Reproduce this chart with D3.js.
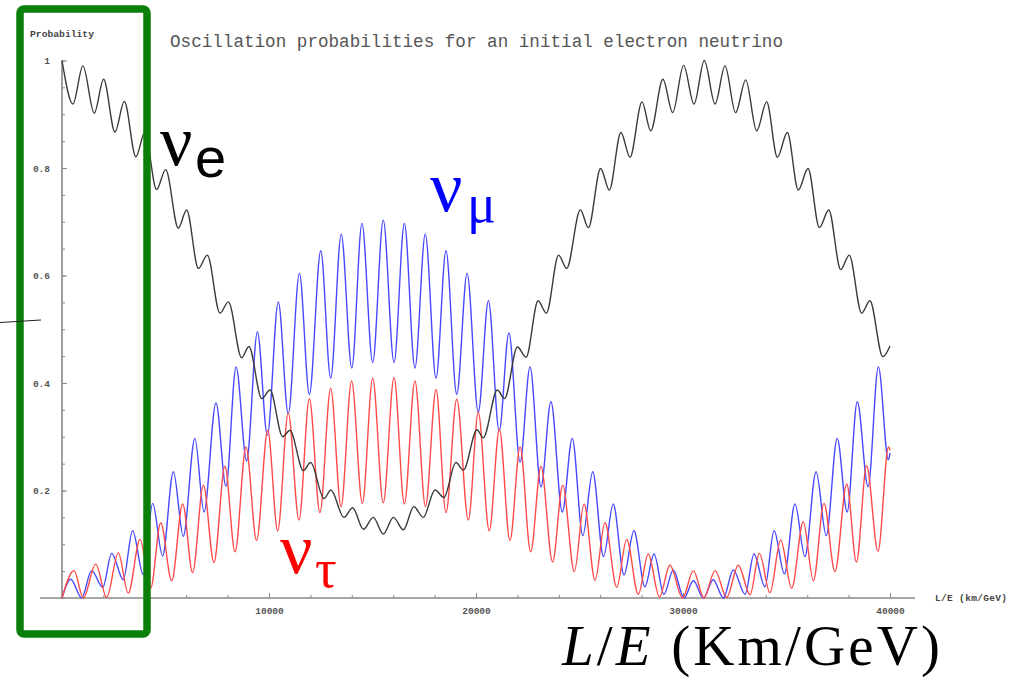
<!DOCTYPE html>
<html>
<head>
<meta charset="utf-8">
<script src="https://cdn.jsdelivr.net/npm/d3@7"></script>
<style>
    body { margin: 0; background: #fff; }
    svg { display: block; }
    .tick text { font-family: 'Liberation Mono', monospace; font-weight: bold; font-size: 9.5px; fill: #555; }
    .tick line { stroke: #888; }
    .axis-line { stroke: #888; stroke-width: 1.6; }
</style>
</head>
<body>
<svg id="chart"></svg>
<script>
// [L/E in km/GeV, probability] read at the peaks and troughs of each curve
const nuE = [
    [0, 1.0], [530, .919], [1010, .990], [1560, .902], [2010, .965], [2560, .867], [3010, .924], [3570, .821],
    [4000, .866], [4570, .760], [5010, .797], [5620, .688], [6020, .722], [6590, .613], [7020, .638], [7630, .530],
    [8040, .551], [8680, .447], [9030, .468], [9650, .371], [10050, .387], [10660, .300], [11010, .312], [11660, .237],
    [12010, .252], [12660, .185], [12990, .201], [13620, .150], [14040, .168], [14560, .128], [15040, .150], [15520, .119],
    [16010, .150], [16490, .127], [17000, .170], [17450, .150], [18020, .201], [18450, .187], [19030, .252], [19390, .238],
    [20050, .313], [20350, .298], [21030, .387], [21380, .371], [22000, .467], [22420, .448], [23000, .553], [23400, .530],
    [23990, .638], [24380, .613], [25040, .722], [25430, .689], [26020, .799], [26440, .759], [27000, .866], [27440, .820],
    [28020, .923], [28440, .869], [29030, .965], [29500, .903], [30030, .991], [30530, .919], [31030, 1.0], [31550, .919],
    [32030, .990], [32540, .903], [33030, .964], [33560, .869], [34040, .923], [34560, .820], [35040, .866], [35570, .759],
    [36040, .799], [36590, .689], [37040, .722], [37620, .611], [38030, .638], [38630, .530], [39030, .553], [39650, .449],
    [40000, .469]
];

const nuMu = [
    [0, 0], [420, .035], [950, 0], [1430, .051], [1970, .020], [2400, .083], [2960, .034], [3410, .125],
    [3930, .043], [4380, .176], [4860, .078], [5380, .235], [5860, .115], [6420, .297], [6860, .160], [7440, .363],
    [7920, .208], [8410, .430], [8920, .255], [9440, .495], [9920, .303], [10450, .551], [10930, .343], [11470, .604],
    [11950, .379], [12500, .646], [12980, .409], [13490, .677], [14000, .428], [14490, .697], [15010, .438], [15520, .703],
    [16040, .438], [16540, .697], [17050, .428], [17550, .677], [18070, .409], [18550, .646], [19070, .379], [19570, .604],
    [20110, .346], [20600, .553], [21120, .311], [21590, .493], [22130, .253], [22610, .430], [23140, .207], [23620, .365],
    [24170, .160], [24650, .297], [25160, .116], [25640, .235], [26160, .077], [26630, .175], [27150, .043], [27630, .125],
    [28160, .021], [28600, .082], [29080, .007], [29530, .052], [30050, 0], [30500, .032], [30990, 0], [31460, .034],
    [31950, 0], [32430, .052], [33000, .007], [33430, .082], [33960, .021], [34400, .125], [34900, .045], [35410, .175],
    [35890, .077], [36430, .235], [36920, .116], [37450, .297], [37930, .160], [38420, .365], [38940, .207], [39440, .430],
    [39920, .257], [40000, .27]
];

const nuTau = [
    [0, 0], [580, .051], [1030, 0], [1630, .063], [2160, .001], [2720, .084], [3200, .009], [3770, .109],
    [4280, .018], [4770, .140], [5300, .032], [5830, .175], [6310, .047], [6830, .210], [7340, .066], [7870, .245],
    [8360, .086], [8890, .281], [9400, .107], [9940, .312], [10420, .125], [10930, .344], [11450, .145], [11950, .371],
    [12460, .159], [12980, .390], [13480, .170], [13990, .404], [14510, .176], [15010, .409], [15520, .177], [16040, .410],
    [16540, .175], [17050, .404], [17560, .170], [18070, .388], [18550, .159], [19070, .370], [19630, .145], [20110, .345],
    [20640, .125], [21130, .314], [21640, .107], [22130, .281], [22640, .086], [23140, .245], [23700, .067], [24190, .210],
    [24750, .049], [25220, .175], [25750, .033], [26230, .140], [26800, .020], [27280, .109], [27840, .007], [28320, .082],
    [28860, .002], [29370, .061], [29980, 0], [30500, .051], [31010, 0], [31550, .051], [32110, .001], [32670, .061],
    [33240, .006], [33690, .083], [34200, .010], [34720, .108], [35250, .018], [35810, .142], [36300, .032], [36810, .176],
    [37340, .049], [37910, .212], [38380, .067], [38870, .246], [39420, .087], [39930, .281], [40000, .275]
];

const xTickValues = [10000, 20000, 30000, 40000];
const yTickValues = [0.2, 0.4, 0.6, 0.8, 1];
const yTickLabels = ['0.2', '0.4', '0.6', '0.8', '1'];

class OscillationChart {
    constructor(_config) {
        this.config = {
            parentElement: _config.parentElement || 'body',
            width: _config.width || 1019,
            height: _config.height || 682,
            margin: _config.margin || { top: 60.5, right: 129, bottom: 84, left: 62 }
        };
        this.initVis();
    }

    initVis() {
        const that = this;
        const m = that.config.margin;
        that.boundedWidth = that.config.width - m.left - m.right;
        that.boundedHeight = that.config.height - m.top - m.bottom;

        that.xScale = d3.scaleLinear().domain([0, 40000]).range([0, that.boundedWidth]);
        that.yScale = d3.scaleLinear().domain([0, 1]).range([that.boundedHeight, 0]);

        that.wrapper = d3.select(that.config.parentElement)
            .attr('width', that.config.width)
            .attr('height', that.config.height);

        that.bounds = that.wrapper.append('g')
            .attr('transform', `translate(${m.left}, ${m.top})`);

        // axes (ticks point inwards like the original plot)
        const yMinor = d3.axisLeft(that.yScale).ticks(20).tickSizeInner(-3).tickSizeOuter(0).tickFormat('');
        const yMajor = d3.axisLeft(that.yScale)
            .tickValues(yTickValues)
            .tickFormat((d, i) => yTickLabels[i])
            .tickSizeInner(-5).tickSizeOuter(0).tickPadding(12);
        const xMinor = d3.axisBottom(that.xScale).ticks(20).tickSizeInner(-3).tickSizeOuter(0).tickFormat('');
        const xMajor = d3.axisBottom(that.xScale)
            .tickValues(xTickValues)
            .tickSizeInner(-5).tickSizeOuter(0).tickPadding(9)
            .tickFormat(d3.format('d'));

        that.bounds.append('g').call(yMinor);
        that.bounds.append('g').call(yMajor);
        that.bounds.append('g').attr('transform', `translate(0, ${that.boundedHeight})`).call(xMinor);
        that.bounds.append('g').attr('transform', `translate(0, ${that.boundedHeight})`).call(xMajor);
        that.bounds.selectAll('.domain').remove();

        that.bounds.append('line').attr('class', 'axis-line')
            .attr('x1', -22).attr('x2', that.boundedWidth + 25)
            .attr('y1', that.boundedHeight).attr('y2', that.boundedHeight);
        that.bounds.append('line').attr('class', 'axis-line')
            .attr('x1', 0).attr('x2', 0)
            .attr('y1', 0).attr('y2', that.boundedHeight);

        // axis titles and plot title
        that.wrapper.append('text')
            .attr('x', 30).attr('y', 36.5)
            .attr('textLength', 64)
            .style('font-family', "'Liberation Mono', monospace")
            .style('font-weight', 'bold').style('font-size', '9.7px').style('fill', '#444')
            .text('Probability');

        that.wrapper.append('text')
            .attr('x', 935).attr('y', 600.5)
            .attr('textLength', 72)
            .style('font-family', "'Liberation Mono', monospace")
            .style('font-weight', 'bold').style('font-size', '9.5px').style('fill', '#444')
            .text('L/E (km/GeV)');

        that.wrapper.append('text')
            .attr('x', 170).attr('y', 46.5)
            .attr('textLength', 613)
            .style('font-family', "'Liberation Mono', monospace")
            .style('font-size', '17.6px').style('fill', '#555')
            .text('Oscillation probabilities for an initial electron neutrino');

        that.linesGroup = that.bounds.append('g');
    }

    renderVis() {
        const that = this;
        const line = d3.line()
            .x(d => that.xScale(d[0]))
            .y(d => that.yScale(d[1]))
            .curve(d3.curveMonotoneX);

        const series = [
            { data: nuMu, color: '#4848ff' },
            { data: nuTau, color: '#ff4a4a' },
            { data: nuE, color: '#3a3a3a' }
        ];

        that.linesGroup.selectAll('path')
            .data(series)
            .join('path')
            .attr('d', d => line(d.data))
            .attr('fill', 'none')
            .attr('stroke', d => d.color)
            .attr('stroke-width', 1.4);

        that.renderAnnotations();
    }

    renderAnnotations() {
        const that = this;
        const svg = that.wrapper;

        // slide annotations drawn over the plot
        svg.append('rect')
            .attr('x', 20).attr('y', 9)
            .attr('width', 127).attr('height', 625)
            .attr('rx', 4)
            .attr('fill', 'none')
            .attr('stroke', '#0a800a')
            .attr('stroke-width', 7.5);

        svg.append('line')
            .attr('x1', 0).attr('y1', 322.5).attr('x2', 41).attr('y2', 320)
            .attr('stroke', '#222').attr('stroke-width', 1);

        const labels = [
            { main: 'ν', sub: 'e', x: 160, y: 165, sx: 195, sy: 177, color: '#000', subFont: "'Liberation Sans', sans-serif", subSize: 56 },
            { main: 'ν', sub: 'μ', x: 430, y: 211, sx: 467, sy: 222, color: '#0000ff', subFont: "'Liberation Serif', serif", subSize: 54 },
            { main: 'ν', sub: 'τ', x: 280, y: 573, sx: 315, sy: 587, color: '#ff0000', subFont: "'Liberation Serif', serif", subSize: 54 }
        ];

        labels.forEach(l => {
            svg.append('text')
                .attr('x', l.x).attr('y', l.y)
                .style('font-family', "'Liberation Serif', serif")
                .style('font-size', '72px')
                .style('fill', l.color)
                .text(l.main);
            svg.append('text')
                .attr('x', l.sx).attr('y', l.sy)
                .style('font-family', l.subFont)
                .style('font-size', l.subSize + 'px')
                .style('fill', l.color)
                .text(l.sub);
        });

        const axisLabel = svg.append('text')
            .attr('x', 562).attr('y', 665)
            .attr('textLength', 378)
            .style('font-family', "'Liberation Serif', serif")
            .style('font-size', '57px')
            .style('fill', '#000');
        axisLabel.append('tspan').style('font-style', 'italic').text('L');
        axisLabel.append('tspan').text('/');
        axisLabel.append('tspan').style('font-style', 'italic').text('E');
        axisLabel.append('tspan').text(' (Km/GeV)');
    }
}

const chart = new OscillationChart({ parentElement: '#chart' });
chart.renderVis();
</script>
</body>
</html>
